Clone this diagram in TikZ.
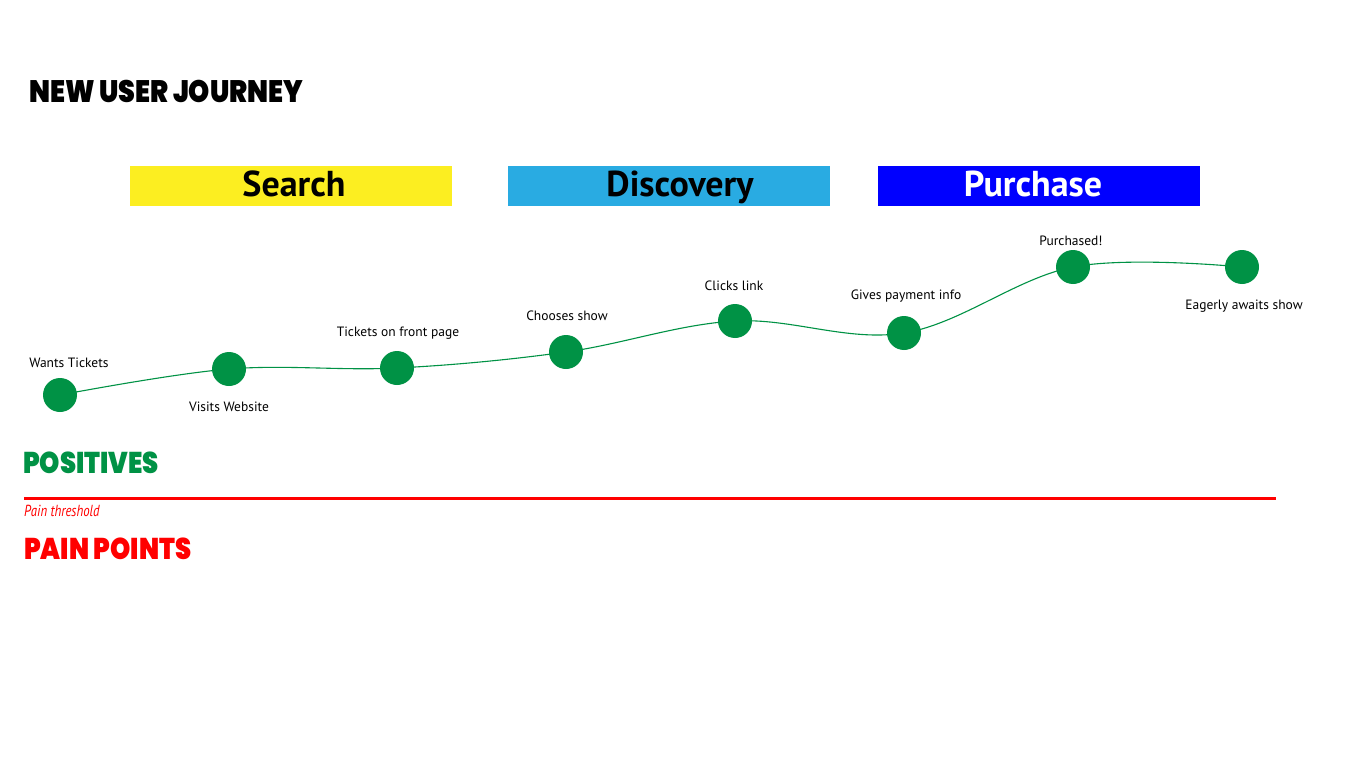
\documentclass[tikz,border=0pt]{standalone}
\usepackage{fontspec}
\setmainfont{PT Sans}
\newfontfamily\heavy{Poppins Black}
\usetikzlibrary{calc}
\definecolor{jgreen}{HTML}{009245}
\definecolor{jyellow}{HTML}{FCEE21}
\definecolor{jcyan}{HTML}{29ABE2}
\definecolor{jblue}{HTML}{0000FF}
\definecolor{jred}{HTML}{FF0000}
\tikzset{
  stage/.style={minimum width=322pt, minimum height=40pt, inner sep=0pt, text height=26pt, text depth=6pt, font=\fontsize{36}{36}\selectfont\bfseries},
  dot/.style={circle, fill=jgreen, minimum size=34pt, inner sep=0pt},
  lbl/.style={font=\fontsize{13.5}{14}\selectfont, inner sep=0pt, text=black},
  heading/.style={inner sep=0pt, anchor=west, xscale=0.86, font=\heavy\fontsize{30}{30}\selectfont},
}
\begin{document}
\begin{tikzpicture}[x=1pt,y=-1pt]
\useasboundingbox (0,0) rectangle (1366,768);
\fill[white] (0,0) rectangle (1366,768);
\node[heading, xscale=1.01, text=black, font=\heavy\fontsize{31}{31}\selectfont] (title) at (29,91) {NEW USER JOURNEY};
\node[stage, fill=jyellow, text=black] (search) at (291,186) {\hspace*{6pt}Search};
\node[stage, fill=jcyan, text=black] (disc) at (669,186) {\hspace*{22pt}Discovery};
\node[stage, fill=jblue, text=white] (purch) at (1039,186) {Purchase\hspace*{12pt}};
\coordinate (p1) at (60,395);
\coordinate (p2) at (229,369);
\coordinate (p3) at (397,368);
\coordinate (p4) at (566,352);
\coordinate (p5) at (735,321);
\coordinate (p6) at (904,333);
\coordinate (p7) at (1073,267);
\coordinate (p8) at (1242,267);
\draw[jgreen, line width=1.1pt] plot[smooth, tension=0.6] coordinates {(60,395) (229,369) (397,368) (566,352) (735,321) (904,333) (1073,267) (1242,267)};
\foreach \i in {1,...,8} {\node[dot] (d\i) at (p\i) {};}
\node[lbl] (l1) at (69,363) {Wants Tickets};
\node[lbl] (l2) at (229,407) {Visits Website};
\node[lbl] (l3) at (398,333) {Tickets on front page};
\node[lbl] (l4) at (567,316) {Chooses show};
\node[lbl] (l5) at (734,286) {Clicks link};
\node[lbl] (l6) at (906,296) {Gives payment info};
\node[lbl] (l7) at (1071,241) {Purchased!};
\node[lbl] (l8) at (1244,306) {Eagerly awaits show};
\node[heading, text=jgreen] (pos) at (23,463) {POSITIVES};
\coordinate (t1) at (24,498);
\coordinate (t2) at (1276,498);
\draw[jred, line width=3pt] (t1) -- (t2);
\node[anchor=west, inner sep=0pt, text=jred, xscale=0.8, font=\fontsize{16}{16}\selectfont\itshape] (thr) at (24,511) {Pain threshold};
\node[heading, text=jred] (pain) at (24,549) {PAIN POINTS};
\end{tikzpicture}
\end{document}
